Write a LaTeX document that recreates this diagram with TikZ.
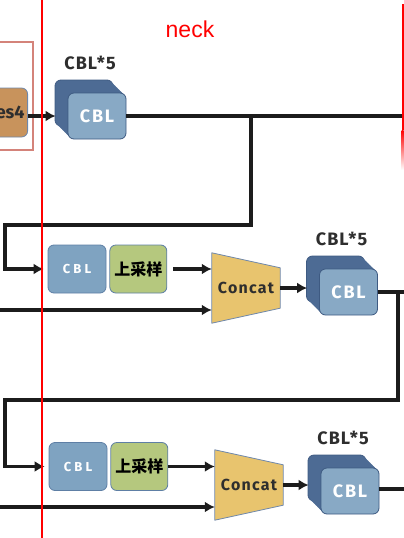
\documentclass[tikz,border=0pt]{standalone}
\usepackage{fontspec}
\setmainfont{Liberation Sans}
\newfontfamily\boxfont{Fira Sans}
\newfontfamily\cjk{Noto Sans CJK SC}
\usetikzlibrary{arrows.meta,positioning,shadows,backgrounds}

\definecolor{cubeback}{HTML}{4D6B94}
\definecolor{cubefront}{HTML}{88A9C5}
\definecolor{cubeedge}{HTML}{3E5A82}
\definecolor{cblfill}{HTML}{7FA3C1}
\definecolor{cbledge}{HTML}{5E7FA5}
\definecolor{upfill}{HTML}{B5C87E}
\definecolor{concatfill}{HTML}{E8C46E}
\definecolor{concatedge}{HTML}{6F88AB}
\definecolor{resfill}{HTML}{C8935C}
\definecolor{frameedge}{HTML}{D4837A}
\definecolor{linecol}{HTML}{1C1C1C}
\definecolor{lblcol}{HTML}{2E2E2E}

\begin{document}
\begin{tikzpicture}[
  x=1pt, y=-1pt,
  extrude/.style={general shadow={fill=cubeback, shadow xshift=-#1, shadow yshift=#1}},
  cube/.style={
    general shadow={fill=cubeback, draw=cubeedge, line width=0.8pt, shadow xshift=-13pt, shadow yshift=13pt},
    extrude=11pt, extrude=9pt, extrude=7pt, extrude=5pt, extrude=3pt, extrude=1.5pt,
    draw=cubeedge, fill=cubefront, rounded corners=6pt, line width=0.8pt,
    minimum width=58pt, minimum height=46pt, inner sep=0pt,
    text=white, font={\boxfont\bfseries\fontsize{18}{18}\selectfont\addfontfeatures{LetterSpace=10}}
  },
  lbl/.style={
    text=lblcol, label distance=19pt, xshift=-7pt,
    font={\boxfont\bfseries\fontsize{18}{18}\selectfont\addfontfeatures{LetterSpace=6}}
  },
  cblbox/.style={
    draw=cbledge, fill=cblfill, rounded corners=6pt, line width=0.8pt,
    minimum width=58pt, minimum height=48pt, inner sep=0pt,
    text=white, font={\boxfont\bfseries\fontsize{13}{13}\selectfont\addfontfeatures{LetterSpace=24}}
  },
  upbox/.style={
    draw=cbledge, fill=upfill, rounded corners=6pt, line width=0.8pt,
    minimum width=57pt, minimum height=48pt, inner sep=0pt,
    font={\cjk\bfseries\fontsize{16}{16}\selectfont}
  },
  concat/.style={
    minimum width=68pt, minimum height=70pt, inner sep=0pt, text=lblcol,
    font={\boxfont\bfseries\fontsize{16}{16}\selectfont\addfontfeatures{LetterSpace=8}}
  },
  catshape/.style={draw=concatedge, fill=concatfill, line width=0.8pt, line join=round},
  resbox/.style={
    draw=concatedge, fill=resfill, rounded corners=6pt, line width=0.8pt,
    minimum height=49pt, text width=30pt, align=right, inner xsep=3pt,
    text=lblcol, font={\boxfont\bfseries\fontsize{18}{18}\selectfont}
  },
  line/.style={draw=linecol, line width=3.2pt},
  arrow/.style={line, -{Latex[length=10pt,width=11pt]}},
  redline/.style={draw=red, line width=2pt}
]
\useasboundingbox (0,0) rectangle (404,538);
\clip (0,0) rectangle (404,538);

% backbone side
\draw[draw=frameedge, line width=1.5pt] (-5,42) rectangle (33,150);
\node[resbox, anchor=east] (resa) at (28,112.5) {es4};

% neck blocks
\node[cube, label={[lbl]above:CBL*5}] (cubea) at (97,116) {CBL};
\node[cblbox] (cbla) at (77,269) {CBL};
\node[upbox, right=3pt of cbla] (upa) {上采样};
\node[concat] (cata) at (246,288) {Concat};
\node[cube, label={[lbl]above:CBL*5}] (cubeb) at (348.5,292) {CBL};
\node[cblbox] (cblb) at (78,466.5) {CBL};
\node[upbox, right=3pt of cblb] (upb) {上采样};
\node[concat] (catb) at (249,485) {Concat};
\node[cube, label={[lbl]above:CBL*5}] (cubec) at (350,491) {CBL};

\begin{scope}[on background layer]
\foreach \c in {cata,catb}
  \draw[catshape] (\c.north west) -- ([yshift=-15pt]\c.north east)
    -- ([yshift=15pt]\c.south east) -- (\c.south west) -- cycle;
\end{scope}

% free ends and turns
\coordinate (edgea) at (404,116);
\coordinate (forka) at (251,116);
\coordinate (turna) at (5,225);
\coordinate (ina) at (0,310);
\coordinate (edgeb) at (404,292);
\coordinate (forkb) at (398,292);
\coordinate (turnb) at (5,400);
\coordinate (inb) at (0,507);
\coordinate (edgec) at (404,489);

% connectors
\draw[arrow, shorten >=12pt] (resa.east |- cubea.west) -- (cubea.west);
\draw[line] (cubea.east) -- (cubea.east -| edgea);
\draw[arrow, shorten >=4pt] (forka) |- (turna) |- (cbla.west);
\draw[arrow, shorten <=6pt] (upa.east) -- (upa.east -| cata.west);
\draw[arrow] (ina) -- (ina -| cata.west);
\draw[arrow, shorten >=12pt] (cata.east) -- (cata.east -| cubeb.west);
\draw[line] (cubeb.east) -- (cubeb.east -| edgeb);
\draw[arrow, shorten >=4pt] (forkb) |- (turnb) |- (cblb.west);
\draw[arrow] (upb.east) -- (upb.east -| catb.west);
\draw[arrow] (inb) -- (inb -| catb.west);
\draw[arrow, shorten >=12pt] (catb.east) -- (catb.east -| cubec.west);
\draw[line] (cubec.east |- edgec) -- (edgec);

% section borders
\node[text=red, font=\fontsize{23}{23}\selectfont] (necklbl) at (190,29) {neck};
\draw[redline] (42,0) -- (42,538);
\draw[redline] (402.5,4) -- (402.5,130);
\shade[top color=red, bottom color=white] (401.5,130) rectangle (403.5,170);
\end{tikzpicture}
\end{document}
